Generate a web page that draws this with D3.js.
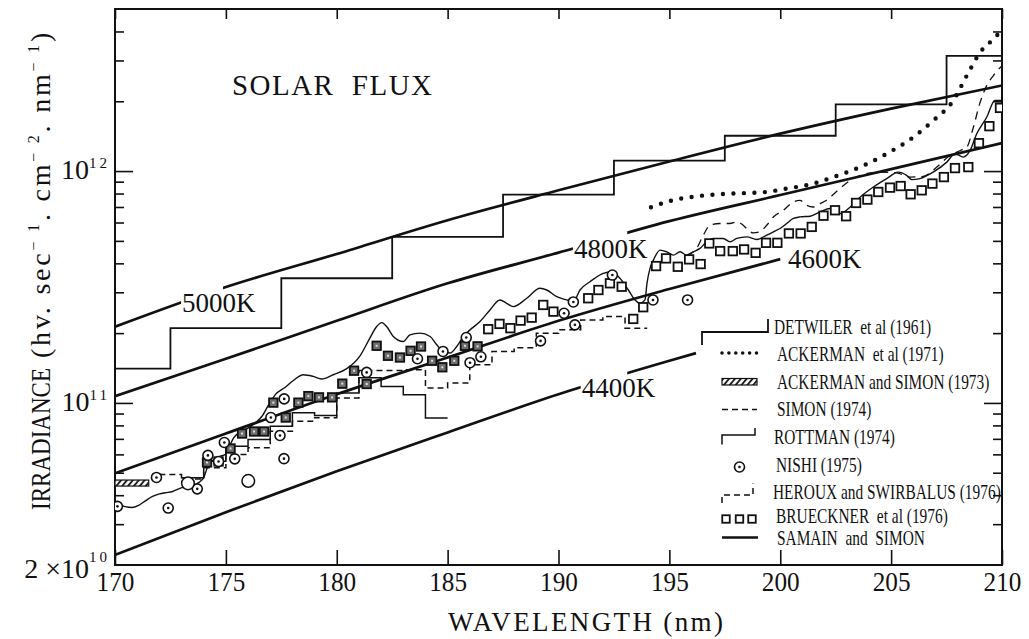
<!DOCTYPE html>
<html><head><meta charset="utf-8">
<script src="https://cdn.jsdelivr.net/npm/d3@7"></script>
<style>
html,body{margin:0;padding:0;background:#fff;}
svg{display:block;}
svg text{font-family:"Liberation Serif","Tinos","Times New Roman","Times","DejaVu Serif","Noto Serif","FreeSerif",serif;fill:#111;white-space:pre;}
</style></head><body>
<svg id="chart" width="1029" height="639" font-family="Liberation Serif, Tinos, Times New Roman, DejaVu Serif, serif"></svg>
<script>
// Solar UV photon irradiance, 170–210 nm (hv s^-1 cm^-2 nm^-1)

const xTicks = [170, 175, 180, 185, 190, 195, 200, 205, 210];
const yMajor = [1e11, 1e12];
const yMinor = [3e10, 4e10, 5e10, 6e10, 7e10, 8e10, 9e10,
                2e11, 3e11, 4e11, 5e11, 6e11, 7e11, 8e11, 9e11,
                2e12, 3e12, 4e12];
const yLabels = [[2e10, "2 ×10", "10"], [1e11, "10", "11"], [1e12, "10", "12"]];

// black-body reference curves
const bb5000 = [[170,2.13e11],[175,3.16e11],[180,4.39e11],[185,6.14e11],[190,8.26e11],[195,1.10e12],[200,1.45e12],[205,1.86e12],[210,2.34e12]];
const bb4800 = [[170,1.07e11],[175,1.55e11],[180,2.26e11],[185,3.28e11],[190,4.45e11],[195,6.08e11],[200,7.88e11],[205,1.02e12],[210,1.32e12]];
const bb4600 = [[170,4.97e10],[175,7.38e10],[180,1.09e11],[185,1.57e11],[190,2.26e11],[195,3.10e11],[200,4.17e11]];
const bb4400 = [[170,2.21e10],[175,3.38e10],[180,5.07e10],[185,7.46e10],[190,1.09e11],[195,1.52e11],[196.2,1.64e11]];

// DETWILER et al (1961): 5 nm bins (bin edges, flux per bin)
const detwilerEdges = [170, 172.5, 177.5, 182.5, 187.5, 192.5, 197.5, 202.5, 207.5, 210];
const detwilerFlux  = [1.405e11, 2.10e11, 3.45e11, 5.20e11, 7.92e11, 1.11e12, 1.42e12, 1.94e12, 3.14e12];

// ROTTMAN (1974): 1 nm bins
const rottmanEdges = [173,174,175,176,177,178,179,180,181,182,183,184,185];
const rottmanFlux  = [4.76e10,5.61e10,6.51e10,6.95e10,7.93e10,9.06e10,8.82e10,1.104e11,1.285e11,1.178e11,1.086e11,8.62e10];

// HEROUX and SWIRBALUS (1976): 1 nm bins
const herouxEdges = [172,173,174,175,176,177,178,179,180,181,182,183,184,185,186,187,188,189,190,191,192,193,194];
const herouxFlux  = [4.91e10,4.70e10,5.25e10,5.99e10,6.40e10,7.55e10,8.33e10,8.64e10,1.051e11,1.38e11,1.38e11,1.39e11,1.16e11,1.22e11,1.46e11,1.667e11,1.73e11,2.0e11,2.07e11,2.28e11,2.36e11,2.10e11];

// ACKERMAN and SIMON (1973): band
const ackermanSimonBand = [170, 171.52];
const ackermanSimonFlux = [4.38e10, 4.65e10];

// SAMAIN and SIMON
const samainSimon = [[170.0,3.62e10],[170.17,3.65e10],[170.46,3.57e10],[170.77,3.54e10],[171.07,3.62e10],[171.37,3.78e10],[171.67,3.94e10],[171.97,4.04e10],[172.27,4.10e10],[172.57,4.14e10],
[173.02,4.31e10],[173.38,4.35e10],[173.77,4.53e10],[174.0,4.76e10],[174.19,5.34e10],[174.37,5.61e10],[174.73,5.88e10],[174.97,5.99e10],[175.13,6.40e10],[175.35,7.07e10],
[175.58,7.43e10],[175.88,7.68e10],[176.33,8.20e10],[176.63,8.76e10],[176.93,9.83e10],[177.23,1.086e11],[177.68,1.169e11],[178.06,1.253e11],[178.49,1.323e11],[178.94,1.301e11],
[179.32,1.268e11],[179.84,1.323e11],[180.45,1.405e11],[181.05,1.597e11],[181.5,1.909e11],[181.8,2.135e11],[182.03,2.221e11],[182.25,2.135e11],[182.55,1.934e11],[183.0,1.84e11],
[183.3,1.967e11],[183.75,2.0e11],[184.21,1.934e11],[184.51,1.781e11],[184.8,1.667e11],[185.11,1.641e11],[185.41,1.751e11],[185.71,1.934e11],[186.01,2.066e11],[186.46,2.243e11],
[186.91,2.518e11],[187.36,2.781e11],[187.66,2.691e11],[187.96,2.602e11],[188.57,2.828e11],[189.17,3.121e11],[189.47,3.069e11],[189.92,2.873e11],[190.37,2.781e11],[190.67,2.734e11],
[190.97,3.069e11],[191.42,3.333e11],[192.02,3.622e11],[192.4,3.68e11],[192.77,3.447e11],[193.15,3.069e11],[193.45,2.781e11],[193.68,2.691e11],[193.9,2.781e11],[193.99,3.281e11],
[194.13,3.816e11],[194.28,4.131e11],[194.58,4.561e11],[194.88,4.485e11],[195.18,4.34e11],[195.48,4.485e11],[195.78,4.34e11],[196.08,4.485e11],[196.38,4.638e11],[196.68,4.953e11],
[196.98,5.122e11],[197.43,5.122e11],[197.73,4.953e11],[198.04,5.122e11],[198.49,5.204e11],[198.94,5.072e11],[199.39,5.292e11],[199.69,5.467e11],[199.99,5.655e11],[200.29,5.942e11],
[200.59,6.244e11],[200.89,6.343e11],[201.35,6.387e11],[201.8,6.665e11],[202.25,6.893e11],[202.71,6.561e11],[203.16,7.003e11],[203.61,7.732e11],[204.2,8.535e11],[204.8,9.276e11],
[205.32,9.90e11],[205.7,9.58e11],[205.93,9.184e11],[206.3,9.276e11],[206.9,9.90e11],[207.51,1.093e12],[207.88,1.188e12],[208.26,1.149e12],[208.56,1.227e12],[208.86,1.448e12],
[209.31,1.707e12],[209.68,2.014e12],[210.0,2.014e12]];

// SIMON (1974)
const simon1974 = [[195.78,4.34e11],[196.23,4.64e11],[196.53,5.29e11],[196.83,5.84e11],[197.28,5.94e11],[197.73,5.94e11],[198.04,6.04e11],[198.33,5.84e11],[198.56,5.56e11],[198.78,5.41e11],
[199.08,5.47e11],[199.39,5.84e11],[199.69,6.34e11],[200.14,6.78e11],[200.59,7.36e11],[200.89,7.48e11],[201.19,7.12e11],[201.49,7.00e11],[201.8,7.24e11],[202.09,7.48e11],
[202.55,8.18e11],[203.16,9.12e11],[203.75,9.68e11],[204.5,9.90e11],[205.25,9.82e11],[205.85,9.42e11],[206.45,9.49e11],[207.06,1.04e12],[207.56,1.149e12],[208.11,1.227e12],
[208.41,1.268e12],[208.71,1.546e12],[209.01,1.974e12],[209.31,2.336e12],[209.68,2.63e12],[210.0,2.85e12]];

// ACKERMAN et al (1971)
const ackerman1971 = [[194.17,6.98e11],[195.03,7.43e11],[196.25,7.79e11],[197.74,7.99e11],[199.22,8.10e11],[200.29,8.40e11],[201.49,8.83e11],[202.39,9.42e11],[203.6,1.04e12],
[204.8,1.188e12],[206.0,1.40e12],[206.9,1.652e12],[207.8,2.014e12],[208.41,2.578e12],[209.01,3.248e12],[209.76,3.832e12],[210.0,4.1e12]];

// NISHI (1975)
const nishi = [[170.11,3.58e10],[171.87,4.77e10],[172.4,3.52e10],[173.71,4.26e10],[174.19,5.94e10],[174.67,5.59e10],[174.93,6.75e10],[175.4,5.74e10],[177.03,8.65e10],
[177.63,1.041e11],[177.44,7.24e10],[177.62,5.75e10],[181.35,1.354e11],[183.64,1.551e11],[184.79,1.667e11],[185.84,1.914e11],[186.01,1.491e11],[186.5,1.581e11],
[189.19,1.852e11],[190.25,2.437e11],[190.67,2.726e11],[190.74,2.171e11],[192.43,3.561e11],[194.26,2.781e11],[195.82,2.781e11]];
const nishiOpen = [[173.29,4.5e10],[176.01,4.61e10]];

// BRUECKNER et al (1976)
const brueckner = [[174.15,5.54e10],[174.67,5.59e10],[175.21,6.36e10],[175.73,7.38e10],[176.27,7.53e10],[176.72,7.53e10],[177.14,1.003e11],[177.7,8.65e10],[178.27,1.003e11],[178.72,1.07e11],
[179.2,1.057e11],[179.79,1.057e11],[180.25,1.211e11],[180.78,1.377e11],[181.35,1.207e11],[181.8,1.764e11],[182.31,1.597e11],[182.85,1.57e11],[183.33,1.678e11],[183.8,1.751e11],
[184.3,1.52e11],[184.76,1.425e11],[185.3,1.52e11],[185.78,1.764e11],[186.35,1.754e11],[186.83,2.08e11],[187.34,2.192e11],[187.83,2.101e11],[188.29,2.265e11],[188.79,2.333e11],
[189.31,2.646e11],[189.77,2.476e11],[191.34,2.828e11],[191.8,3.069e11],[192.32,3.281e11],[192.85,3.171e11],[193.37,2.303e11],[193.82,2.587e11],[194.4,3.893e11],[194.85,4.201e11],
[195.38,3.866e11],[195.89,4.16e11],[196.41,3.971e11],[196.8,4.875e11],[197.29,4.516e11],[197.86,4.516e11],[198.37,4.592e11],[198.89,4.44e11],[199.36,4.904e11],[199.87,4.904e11],
[200.39,5.382e11],[200.92,5.382e11],[201.42,5.744e11],[201.95,6.419e11],[202.47,6.776e11],[202.97,6.387e11],[203.42,7.286e11],[203.93,7.534e11],[204.42,8.124e11],[204.95,8.483e11],
[205.43,8.619e11],[205.88,7.941e11],[206.38,8.26e11],[206.86,8.83e11],[207.38,9.42e11],[207.88,1.03e12],[208.48,1.04e12],[208.96,1.319e12],[209.43,1.562e12],[209.91,1.873e12]];

const legendNames = ["DETWILER  et al (1961)", "ACKERMAN  et al (1971)", "ACKERMAN and SIMON (1973)",
  "SIMON (1974)", "ROTTMAN (1974)", "NISHI (1975)", "HEROUX and SWIRBALUS (1976)",
  "BRUECKNER  et al (1976)", "SAMAIN  and  SIMON"];

// ---------------------------------------------------------------------------
const SERIF = "Liberation Serif, Tinos, Times New Roman, Times, DejaVu Serif, Noto Serif, FreeSerif, serif";
const svg = d3.select("#chart");
const M = {left: 115, right: 1002, top: 9, bottom: 565};
const x = d3.scaleLinear().domain([170, 210]).range([M.left, M.right]);
const y = d3.scaleLog().domain([2e10, 5e12]).range([M.bottom, M.top]);
const INK = "#111";

const defs = svg.append("defs");
const hatch = defs.append("pattern").attr("id", "hatch").attr("patternUnits", "userSpaceOnUse")
  .attr("width", 4.5).attr("height", 4.5).attr("patternTransform", "rotate(40)");
hatch.append("rect").attr("width", 4.5).attr("height", 4.5).attr("fill", "#fff");
hatch.append("line").attr("x1", 1).attr("y1", 0).attr("x2", 1).attr("y2", 4.5)
  .attr("stroke", INK).attr("stroke-width", 1.8);
defs.append("clipPath").attr("id", "plotClip").append("rect")
  .attr("x", M.left).attr("y", M.top).attr("width", M.right - M.left).attr("height", M.bottom - M.top);

// ---- axes (ticks point inward on all four sides) ----
function styleAxis(g) {
  g.attr("font-size", null).attr("font-family", SERIF);
  g.select(".domain").remove();
  g.selectAll(".tick line").attr("stroke", INK).attr("stroke-width", 1.6);
}
const gB = svg.append("g").attr("transform", `translate(0,${M.bottom})`)
  .call(d3.axisBottom(x).tickValues(xTicks).tickSizeInner(-15).tickSizeOuter(0).tickPadding(6).tickFormat(d3.format("d")));
styleAxis(gB);
gB.selectAll(".tick text").attr("font-size", 28).attr("font-family", SERIF).attr("fill", INK).attr("transform", "scale(0.9,1)");

const gT = svg.append("g").attr("transform", `translate(0,${M.top})`)
  .call(d3.axisTop(x).tickValues(xTicks).tickSizeInner(-10).tickSizeOuter(0).tickFormat(""));
styleAxis(gT); gT.selectAll(".tick text").remove();

[[d3.axisLeft, M.left], [d3.axisRight, M.right]].forEach(([ax, px]) => {
  const gMaj = svg.append("g").attr("transform", `translate(${px},0)`)
    .call(ax(y).tickValues(yMajor).tickSizeInner(-18).tickSizeOuter(0).tickFormat(""));
  styleAxis(gMaj); gMaj.selectAll(".tick text").remove();
  const gMin = svg.append("g").attr("transform", `translate(${px},0)`)
    .call(ax(y).tickValues(yMinor).tickSizeInner(-9).tickSizeOuter(0).tickFormat(""));
  styleAxis(gMin); gMin.selectAll(".tick text").remove();
});

// frame
svg.append("rect").attr("x", M.left).attr("y", M.top).attr("width", M.right - M.left)
  .attr("height", M.bottom - M.top).attr("fill", "none").attr("stroke", INK).attr("stroke-width", 2);

const txt = (sel) => sel.append("text").attr("font-family", SERIF);

// y tick labels with superscript exponents
yLabels.forEach(([v, base, exp], i) => {
  const low = i === 0;
  const t = txt(svg).attr("x", 110).attr("y", y(v) + (low ? 13 : 8))
    .attr("text-anchor", "end").attr("font-size", 28);
  t.append("tspan").text(base);
  t.append("tspan").attr("dy", low ? -16 : -11).attr("font-size", 15).attr("letter-spacing", 3).text(exp);
});

// axis titles
txt(svg).attr("x", 448).attr("y", 631).attr("font-size", 27)
  .attr("textLength", 275).attr("lengthAdjust", "spacing").text("WAVELENGTH (nm)");

txt(svg).attr("transform", "translate(50,510) rotate(-90)").attr("font-size", 28)
  .attr("textLength", 142).attr("lengthAdjust", "spacingAndGlyphs").text("IRRADIANCE");
const yUnit = txt(svg).attr("font-size", 28);
[["(hv. sec", 0], ["− 1", -1], [". cm", 1], ["− 2", -1], [". nm", 1], ["− 1", -1], [")", 1]]
  .forEach(([s, shift]) => {
    const ts = yUnit.append("tspan").text(s);
    if (shift) ts.attr("dy", shift * 11);
    if (shift < 0) ts.attr("font-size", 16);
  });
{
  const n = yUnit.text().length;
  const L0 = yUnit.node().getComputedTextLength();
  yUnit.attr("letter-spacing", Math.max(0, (328 - L0) / n));
  yUnit.attr("transform", "translate(50,358) rotate(-90)");
}

txt(svg).attr("x", 232).attr("y", 95).attr("font-size", 29)
  .attr("textLength", 200).attr("lengthAdjust", "spacing").text("SOLAR  FLUX");

// ---- data layers ----
const plot = svg.append("g").attr("clip-path", "url(#plotClip)");
const smooth = d3.line().x(d => x(d[0])).y(d => y(d[1])).curve(d3.curveMonotoneX);
const stepLine = d3.line().x(d => x(d[0])).y(d => y(d[1])).curve(d3.curveStepAfter);
const bins = (edges, flux) => edges.map((e, i) => [e, flux[Math.min(i, flux.length - 1)]]);

function yAt(pts, wl) {
  const i = d3.bisector(d => d[0]).right(pts, wl);
  if (i <= 0) return y(pts[0][1]);
  if (i >= pts.length) return y(pts[pts.length - 1][1]);
  const a = pts[i - 1], b = pts[i], t = (wl - a[0]) / (b[0] - a[0]);
  return y(a[1]) + t * (y(b[1]) - y(a[1]));
}

// black-body curves, broken where their temperature label sits
const bbCurves = [
  {name: "5000K", pts: bb5000, gap: [172.98, 174.87], labelAt: 172.98},
  {name: "4800K", pts: bb4800, gap: [190.65, 193.1], labelAt: 190.65},
  {name: "4600K", pts: bb4600, gap: null, labelAt: 200.3},
  {name: "4400K", pts: bb4400, gap: [191.0, 193.1], labelAt: 191.0}
];
bbCurves.forEach((c, i) => {
  const id = "bbclip" + i;
  const cp = defs.append("clipPath").attr("id", id);
  if (c.gap) {
    cp.append("rect").attr("x", M.left).attr("y", M.top).attr("width", x(c.gap[0]) - M.left).attr("height", M.bottom - M.top);
    cp.append("rect").attr("x", x(c.gap[1])).attr("y", M.top).attr("width", M.right - x(c.gap[1])).attr("height", M.bottom - M.top);
  } else {
    cp.append("rect").attr("x", M.left).attr("y", M.top).attr("width", M.right - M.left).attr("height", M.bottom - M.top);
  }
  plot.append("path").attr("clip-path", `url(#${id})`).attr("d", smooth(c.pts))
    .attr("fill", "none").attr("stroke", INK).attr("stroke-width", 2.7);
  txt(svg).attr("x", x(c.labelAt) + 1).attr("y", yAt(c.pts, c.labelAt)).attr("dy", "0.34em")
    .attr("font-size", 27).text(c.name);
});

// DETWILER
plot.append("path").attr("d", stepLine(bins(detwilerEdges, detwilerFlux)))
  .attr("fill", "none").attr("stroke", INK).attr("stroke-width", 1.8);
// ROTTMAN
plot.append("path").attr("d", stepLine(bins(rottmanEdges, rottmanFlux)))
  .attr("fill", "none").attr("stroke", INK).attr("stroke-width", 1.5);
// HEROUX and SWIRBALUS
plot.append("path").attr("d", stepLine(bins(herouxEdges, herouxFlux)))
  .attr("fill", "none").attr("stroke", INK).attr("stroke-width", 1.5).attr("stroke-dasharray", "6 4");
// SIMON (1974)
plot.append("path").attr("d", smooth(simon1974))
  .attr("fill", "none").attr("stroke", INK).attr("stroke-width", 1.3).attr("stroke-dasharray", "8 6");
// SAMAIN and SIMON
plot.append("path").attr("d", smooth(samainSimon))
  .attr("fill", "none").attr("stroke", INK).attr("stroke-width", 1.4);
// ACKERMAN et al (1971) dotted
plot.append("path").attr("d", smooth(ackerman1971))
  .attr("fill", "none").attr("stroke", INK).attr("stroke-width", 4.4)
  .attr("stroke-linecap", "round").attr("stroke-dasharray", "0 10.5");
// ACKERMAN and SIMON (1973) hatched band
plot.append("rect").attr("x", x(ackermanSimonBand[0])).attr("width", x(ackermanSimonBand[1]) - x(ackermanSimonBand[0]))
  .attr("y", y(ackermanSimonFlux[1])).attr("height", y(ackermanSimonFlux[0]) - y(ackermanSimonFlux[1]))
  .attr("fill", "url(#hatch)").attr("stroke", INK).attr("stroke-width", 1.2);

// BRUECKNER squares (the short-wavelength ones print darker)
function square(g, cx, cy, s, dark) {
  g.append("rect").attr("x", cx - s / 2).attr("y", cy - s / 2).attr("width", s).attr("height", s)
    .attr("fill", dark ? "#6e6e6e" : "#fff").attr("stroke", INK).attr("stroke-width", 1.8);
  if (dark) g.append("rect").attr("x", cx - 1).attr("y", cy - 1).attr("width", 2).attr("height", 2).attr("fill", "#ddd");
}
brueckner.forEach(d => square(plot, x(d[0]), y(d[1]), 8.5, d[0] < 186.5));

// NISHI circles
function dotCircle(g, cx, cy) {
  g.append("circle").attr("cx", cx).attr("cy", cy).attr("r", 5).attr("fill", "#fff")
    .attr("stroke", INK).attr("stroke-width", 1.6);
  g.append("circle").attr("cx", cx).attr("cy", cy).attr("r", 1.3).attr("fill", INK);
}
nishi.forEach(d => dotCircle(plot, x(d[0]), y(d[1])));
nishiOpen.forEach(d => plot.append("circle").attr("cx", x(d[0])).attr("cy", y(d[1])).attr("r", 6.3)
  .attr("fill", "#fff").attr("stroke", INK).attr("stroke-width", 1.5));

// ---- legend ----
const legRowY = [326, 353, 381.5, 408.5, 436.5, 464, 491, 515, 537];
const legTextX = [774, 777, 777, 777, 774, 776, 773, 776, 777];
const lg = svg.append("g");
legendNames.forEach((name, i) => {
  const ry = legRowY[i];
  txt(lg).attr("transform", `translate(${legTextX[i]},${ry}) scale(0.7,1)`)
    .attr("dy", "0.35em").attr("font-size", 22).text(name);
  const sym = (d, dash, w) => lg.append("path").attr("d", d).attr("fill", "none").attr("stroke", INK)
    .attr("stroke-width", w || 1.5).attr("stroke-dasharray", dash || null);
  switch (i) {
    case 0: sym(`M702,${ry + 19}V${ry + 6}H768V${ry - 7}`, null, 1.8); break;
    case 1: lg.append("path").attr("d", `M722,${ry}H757`).attr("stroke", INK).attr("stroke-width", 3.6)
              .attr("stroke-linecap", "round").attr("stroke-dasharray", "0 6.9"); break;
    case 2: lg.append("rect").attr("x", 722).attr("y", ry - 3).attr("width", 35).attr("height", 6.5)
              .attr("fill", "url(#hatch)").attr("stroke", INK).attr("stroke-width", 1.2); break;
    case 3: sym(`M722,${ry + 1}H757`, "6 4", 1.3); break;
    case 4: sym(`M722,${ry + 8}V${ry - 1.5}H755V${ry - 8.5}`); break;
    case 5: dotCircle(lg, 739.5, ry + 3); break;
    case 6: sym(`M722,${ry + 12}V${ry + 4}H753V${ry - 7.5}`, "6 4"); break;
    case 7: [726, 739.5, 752].forEach(cx => square(lg, cx, ry + 4, 7.5, false)); break;
    case 8: sym(`M722,${ry + 0.5}H758`, null, 2.6); break;
  }
});
</script>
</body></html>
